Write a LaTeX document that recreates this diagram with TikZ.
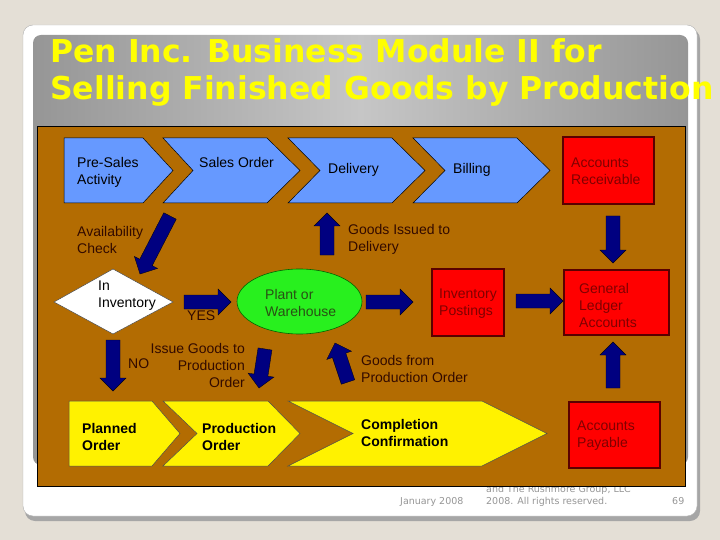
\documentclass[tikz,border=0pt]{standalone}
\usepackage{fontspec}
\setmainfont{Liberation Sans}
\newfontfamily\titlefont{DejaVu Sans}
\newfontfamily\footfont{DejaVu Sans}
\usetikzlibrary{calc,shapes.geometric}
\definecolor{bgc}{RGB}{228,223,214}
\definecolor{brownc}{RGB}{179,108,2}
\definecolor{bluec}{RGB}{102,153,255}
\definecolor{navyc}{RGB}{0,0,128}
\definecolor{redc}{RGB}{255,0,0}
\definecolor{redtxt}{RGB}{128,0,0}
\definecolor{redline}{RGB}{90,0,0}
\definecolor{greenc}{RGB}{40,240,30}
\definecolor{greentxt}{RGB}{40,80,20}
\definecolor{labc}{RGB}{50,10,0}
\definecolor{footc}{RGB}{150,150,150}
\definecolor{titlegreyA}{RGB}{150,150,150}
\definecolor{titlegreyB}{RGB}{198,198,198}
\definecolor{titleyellow}{RGB}{255,255,0}
\newcommand\blockarrow[2]{%
  \coordinate (ba-hb) at ($(#2)!13pt!(#1)$);
  \filldraw[navyc, draw=black!80!navyc, line width=0.4pt]
    ($(#1)!7pt!90:(#2)$) -- ($(ba-hb)!7pt!90:(#2)$) -- ($(ba-hb)!13pt!90:(#2)$)
    -- (#2) -- ($(ba-hb)!13pt!-90:(#2)$) -- ($(ba-hb)!7pt!-90:(#2)$)
    -- ($(#1)!7pt!-90:(#2)$) -- cycle;}
\tikzset{
  lbl/.style={font=\fontsize{14}{17}\selectfont, align=left, inner sep=0pt, text=labc, anchor=west},
  chevtxt/.style={lbl, text=black},
  boldtxt/.style={lbl, text=black, font=\fontsize{14}{17}\selectfont\bfseries},
  redtext/.style={lbl, text=redtxt},
  bluechev/.style={fill=bluec, draw=black, line width=0.5pt},
  yellowchev/.style={fill=yellow, draw=black!70, line width=0.5pt},
  redbox/.style={fill=redc, draw=redline, line width=1.2pt},
  foot/.style={font=\footfont\fontsize{9.5}{11}\selectfont, text=footc, inner sep=0pt, anchor=base west},
  titletxt/.style={font=\titlefont\bfseries\fontsize{31.5}{37}\selectfont, inner sep=0pt, anchor=base west, text=titleyellow}
}
\begin{document}
\begin{tikzpicture}[x=1pt,y=-1pt]
\useasboundingbox (0,0) rectangle (720,540);
\fill[bgc] (0,0) rectangle (720,540);
% slide card
\fill[black!35, rounded corners=10pt] (25,29) rectangle (700,521);
\filldraw[white, draw=black!30, rounded corners=10pt] (23,25) rectangle (697,516);
% title area
\shade[left color=titlegreyA, right color=titlegreyA, middle color=titlegreyB, rounded corners=8pt] (33,35) rectangle (688,465);
% title
\node[titletxt] (t1) at (50,63) {Pen Inc. Business Module II for};
\node[titletxt] (t2) at (50,100) {Selling Finished Goods by Production};
% footer
\node[foot] (f1) at (486,492) {and The Rushmore Group, LLC};
\node[foot] (f2) at (486,504) {2008. All rights reserved.};
\node[foot] (f3) at (400,504) {January 2008};
\node[foot] (f4) at (672,504) {69};
% brown panel
\filldraw[brownc, draw=black, line width=0.8pt] (37,126) rectangle (685,486);
% blue chevrons
\draw[bluechev] (64,138) -- (143,138) -- (173,170.5) -- (143,203) -- (64,203) -- cycle;
\draw[bluechev] (163,138) -- (267,138) -- (300,170.5) -- (267,203) -- (163,203) -- (193,170.5) -- cycle;
\draw[bluechev] (288,138) -- (392,138) -- (425,170.5) -- (392,203) -- (288,203) -- (320,170.5) -- cycle;
\draw[bluechev] (413,138) -- (517,138) -- (550,170.5) -- (517,203) -- (413,203) -- (445,170.5) -- cycle;
\node[chevtxt] (presales) at (77,172.5) {Pre-Sales\\Activity};
\node[chevtxt] (salesorder) at (199,162) {Sales Order};
\node[chevtxt] (delivery) at (328,170) {Delivery};
\node[chevtxt] (billing) at (453,170) {Billing};
% yellow chevrons
\draw[yellowchev] (69,401) -- (152,401) -- (180,433.5) -- (152,466) -- (69,466) -- cycle;
\draw[yellowchev] (163,401) -- (268,401) -- (300,433.5) -- (268,466) -- (163,466) -- (197,433.5) -- cycle;
\draw[yellowchev] (288,401) -- (482,401) -- (547,433.5) -- (482,466) -- (288,466) -- (353,433.5) -- cycle;
\node[boldtxt] (planned) at (82,436.5) {Planned\\Order};
\node[boldtxt] (prodorder) at (202,436.5) {Production\\Order};
\node[boldtxt] (completion) at (361,432.5) {Completion\\Confirmation};
% red boxes
\draw[redbox] (563,137) rectangle (654,204);
\draw[redbox] (564,270) rectangle (669,335);
\draw[redbox] (569,402) rectangle (660,468);
\draw[redbox] (432,269) rectangle (504,336);
\node[redtext] (ar) at (571,171.5) {Accounts\\Receivable};
\node[redtext] (gl) at (579,305.5) {General\\Ledger\\Accounts};
\node[redtext] (ap) at (577,435.5) {Accounts\\Payable};
\node[redtext] (ip) at (439,303.5) {Inventory\\Postings};
% diamond and ellipse
\filldraw[white, draw=black!70, line width=0.5pt] (54,302) -- (113,269) -- (173,302) -- (113,334) -- cycle;
\node[chevtxt] (ininv) at (98,295.5) {In\\Inventory};
\filldraw[greenc, draw=black!60!green, line width=0.6pt] (299.5,301.5) ellipse [x radius=62.5, y radius=32.5];
\node[lbl, text=greentxt] (plant) at (265,302.5) {Plant or\\Warehouse};
% labels
\node[lbl] (avail) at (77,239.5) {Availability\\Check};
\node[lbl] (gidel) at (348,239.5) {Goods Issued to\\Delivery};
\node[lbl] (yes) at (187,316) {YES};
\node[lbl] (no) at (128,364) {NO};
\node[lbl, align=right, anchor=east] (igpo) at (245,365) {Issue Goods to\\Production\\Order};
\node[lbl] (gfpo) at (361,368.5) {Goods from\\Production Order};
% arrows
\coordinate (a1s) at (170,216); \coordinate (a1e) at (140,274);
\coordinate (a2s) at (327,255); \coordinate (a2e) at (327,213);
\coordinate (a3s) at (184,302); \coordinate (a3e) at (231,302);
\coordinate (a4s) at (366,302); \coordinate (a4e) at (413,302);
\coordinate (a5s) at (516,301); \coordinate (a5e) at (563,301);
\coordinate (a6s) at (613,216); \coordinate (a6e) at (613,263);
\coordinate (a7s) at (613,388); \coordinate (a7e) at (613,342);
\coordinate (a8s) at (113,340); \coordinate (a8e) at (113,391);
\coordinate (a9s) at (265,349); \coordinate (a9e) at (259,388);
\coordinate (a10s) at (348,382); \coordinate (a10e) at (335,343);
\blockarrow{a1s}{a1e}
\blockarrow{a2s}{a2e}
\blockarrow{a3s}{a3e}
\blockarrow{a4s}{a4e}
\blockarrow{a5s}{a5e}
\blockarrow{a6s}{a6e}
\blockarrow{a7s}{a7e}
\blockarrow{a8s}{a8e}
\blockarrow{a9s}{a9e}
\blockarrow{a10s}{a10e}
\end{tikzpicture}
\end{document}
